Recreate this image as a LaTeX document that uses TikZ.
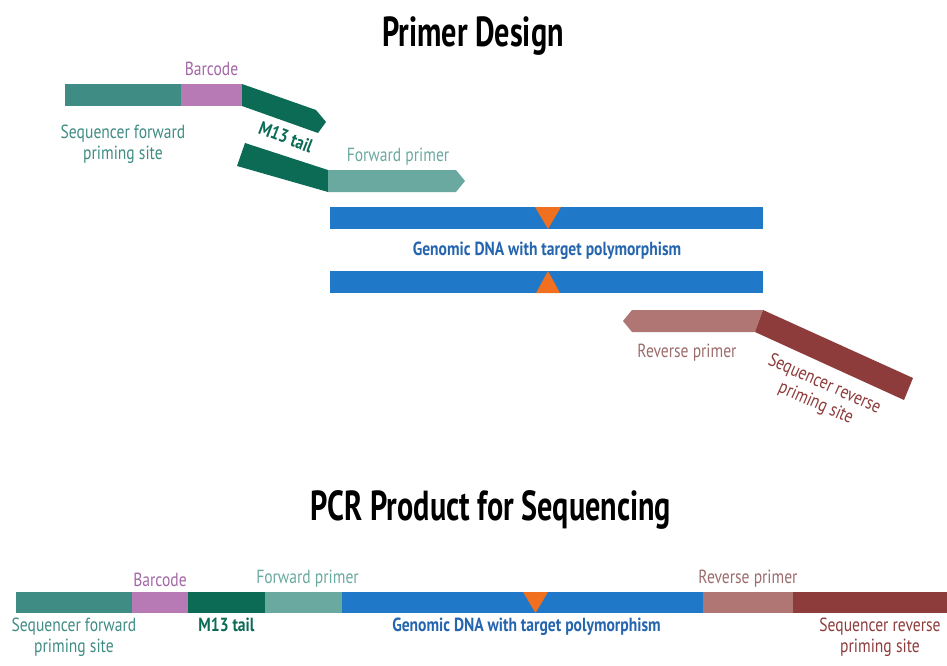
\documentclass[tikz,border=0pt]{standalone}
\usepackage{fontspec}
\setmainfont{PT Sans}[FakeStretch=0.82]
\newfontfamily\ttlfont{PT Sans}[FakeStretch=0.72]
\usetikzlibrary{positioning}
\definecolor{seqfwd}{HTML}{3F8C84}
\definecolor{barc}{HTML}{B77AB5}
\definecolor{mtail}{HTML}{0B6B55}
\definecolor{fwdpr}{HTML}{6AA9A0}
\definecolor{gdna}{HTML}{1F78C8}
\definecolor{snp}{HTML}{F07020}
\definecolor{revpr}{HTML}{B07674}
\definecolor{seqrev}{HTML}{8E3B3B}
\definecolor{gdnatxt}{HTML}{2565AE}
\definecolor{revtxt}{HTML}{9C6C6C}
\definecolor{barctxt}{HTML}{A466A6}
\tikzset{
  seg/.style={minimum height=22pt, inner sep=0pt, outer sep=0pt},
  lbl/.style={font=\fontsize{19}{21}\selectfont, align=center, inner sep=0pt},
  blbl/.style={lbl, font=\fontsize{19}{21}\selectfont\bfseries},
  ttl/.style={font=\ttlfont\fontsize{42}{46}\selectfont\bfseries, inner sep=0pt, anchor=base},
}
\begin{document}
\begin{tikzpicture}[x=1pt,y=-1pt]
\useasboundingbox (0,0) rectangle (947,666);
% titles
\node[ttl] (design) at (473,47) {Primer Design};
\node[ttl] (product) at (491,520) {PCR Product for Sequencing};

% primer design: forward primer
\node[seg, fill=seqfwd, minimum width=116pt, anchor=north west] (sf) at (65,84) {};
\node[seg, fill=barc, minimum width=61pt, right=0pt of sf] (bc) {};
\fill[mtail] (bc.north east) -- (316,110) -- (326,122) -- (318,133) -- (bc.south east) -- cycle;
\fill[mtail] (245,143) -- (328,170) -- (328,192) -- (237,166) -- cycle;
\fill[fwdpr] (328,170) -- (456,170) -- (465,181) -- (456,192) -- (328,192) -- cycle;
\node[lbl, text=barctxt, above=8pt of bc] (bclbl) {Barcode};
\node[lbl, text=seqfwd, below=19pt of sf] (sflbl) {Sequencer forward\\priming site};
\node[blbl, text=mtail, rotate=-21] (mtlbl) at (286,137) {M13 tail};
\node[lbl, text=fwdpr] (fplbl) at (398,157) {Forward primer};

% genomic DNA
\node[seg, fill=gdna, minimum width=433pt, anchor=north west] (top) at (330,207) {};
\node[seg, fill=gdna, minimum width=433pt, anchor=north west] (bot) at (330,271) {};
\fill[snp] (535,207) -- (561,207) -- (548,229) -- cycle;
\fill[snp] (536,293) -- (560,293) -- (548,271) -- cycle;
\node[blbl, text=gdnatxt] (gdlbl) at (547,251) {Genomic DNA with target polymorphism};

% reverse primer
\fill[revpr] (623,321) -- (632,310) -- (763,310) -- (755,332) -- (632,332) -- cycle;
\fill[seqrev] (763,310) -- (913,378) -- (904,400) -- (755,332) -- cycle;
\node[lbl, text=revtxt] (rplbl) at (687,353) {Reverse primer};
\node[lbl, text=seqrev, rotate=-24] (srlbl) at (820,394) {Sequencer reverse\\priming site};

% PCR product
\node[seg, fill=seqfwd, minimum width=116pt, minimum height=21pt, anchor=north west] (p1) at (16,592) {};
\node[seg, fill=barc, minimum width=56pt, minimum height=21pt, right=0pt of p1] (p2) {};
\node[seg, fill=mtail, minimum width=77pt, minimum height=21pt, right=0pt of p2] (p3) {};
\node[seg, fill=fwdpr, minimum width=77pt, minimum height=21pt, right=0pt of p3] (p4) {};
\node[seg, fill=gdna, minimum width=361pt, minimum height=21pt, right=0pt of p4] (p5) {};
\node[seg, fill=revpr, minimum width=90pt, minimum height=21pt, right=0pt of p5] (p6) {};
\node[seg, fill=seqrev, minimum width=154pt, minimum height=21pt, right=0pt of p6] (p7) {};
\fill[snp] (523,592) -- (548,592) -- (535.5,613) -- cycle;
\node[lbl, text=barctxt, above=5pt of p2] (p2lbl) {Barcode};
\node[lbl, text=fwdpr, above=5pt of p4, xshift=4pt] (p4lbl) {Forward primer};
\node[lbl, text=revtxt, above=5pt of p6] (p6lbl) {Reverse primer};
\node[lbl, text=seqfwd, below=5pt of p1] (p1lbl) {Sequencer forward\\priming site};
\node[blbl, text=mtail, below=5pt of p3] (p3lbl) {M13 tail};
\node[blbl, text=gdnatxt, below=5pt of p5, xshift=4pt] (p5lbl) {Genomic DNA with target polymorphism};
\node[lbl, text=seqrev, below=5pt of p7, xshift=10pt] (p7lbl) {Sequencer reverse\\priming site};
\end{tikzpicture}
\end{document}
